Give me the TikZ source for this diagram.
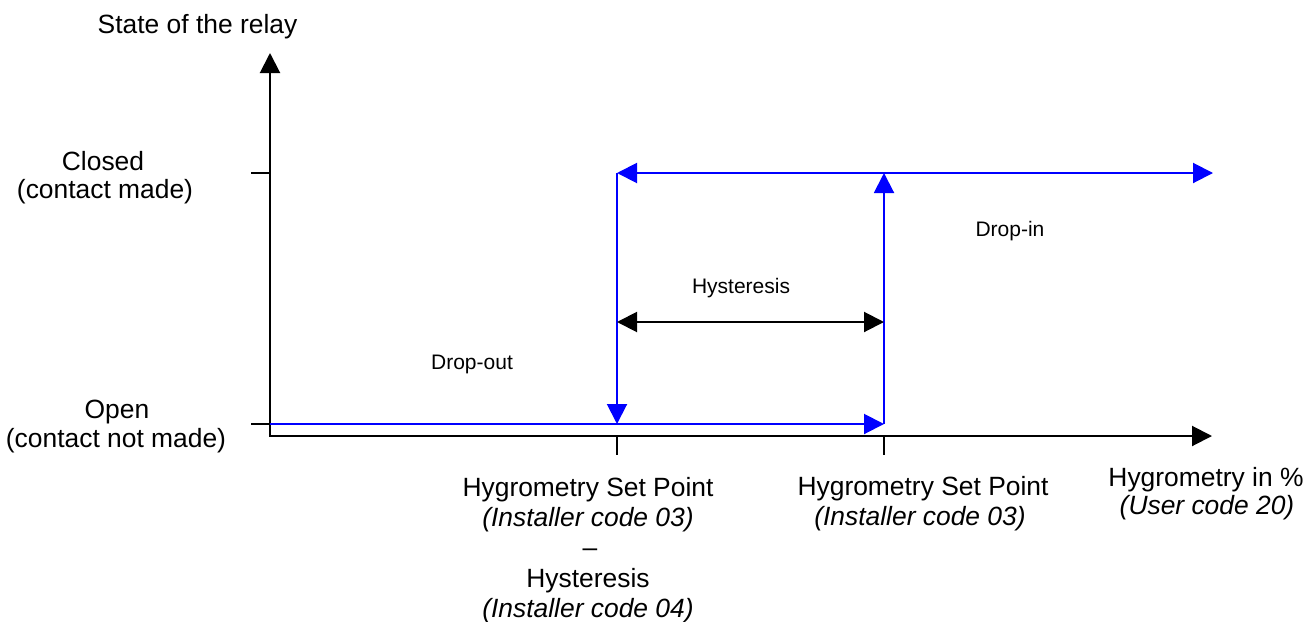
\documentclass[tikz,border=0pt]{standalone}
\usepackage{fontspec}
\setmainfont{Liberation Sans}
\usetikzlibrary{arrows.meta}
\begin{document}
\begin{tikzpicture}[x=1pt,y=-1pt,
  axisline/.style={line width=2pt, line join=miter},
  tri/.style={Triangle[length=20pt,width=20pt]},
  relay/.style={draw=blue, line width=2pt},
  big/.style={inner sep=0pt, anchor=base, font=\fontsize{26.4}{30}\selectfont},
  bigit/.style={big, font=\fontsize{26.4}{30}\selectfont\itshape},
  small/.style={inner sep=0pt, anchor=base, font=\fontsize{21}{25}\selectfont}]
\useasboundingbox (0,0) rectangle (1311,621);
% coordinates
\coordinate (O) at (270,436);
\coordinate (ytip) at (270,53);
\coordinate (xtip) at (1212,436);
\coordinate (yc) at (270,173);
\coordinate (yo) at (270,424);
\coordinate (ycl) at (251,173);
\coordinate (yol) at (251,424);
\coordinate (x1) at (617,436);
\coordinate (x2) at (884,436);
\coordinate (x1b) at (617,455);
\coordinate (x2b) at (884,455);
\coordinate (A) at (617,173);
\coordinate (B) at (884,173);
\coordinate (C) at (1213,173);
\coordinate (D) at (617,424);
\coordinate (E) at (884,424);
\coordinate (H1) at (617,322);
\coordinate (H2) at (884,322);
% axes
\draw[axisline, {Triangle[length=20pt,width=20pt]}-{Triangle[length=20pt,width=20pt]}] (ytip) -- (O) -- (xtip);
\draw[line width=2pt] (ycl) -- (yc);
\draw[line width=2pt] (yol) -- (yo);
\draw[line width=2pt] (x1) -- (x1b);
\draw[line width=2pt] (x2) -- (x2b);
% relay curve
\draw[relay, -{Triangle[length=20pt,width=20pt]}, blue] (yo) -- (E);
\draw[relay, -{Triangle[length=20pt,width=20pt]}, blue] (E) -- (B);
\draw[relay, {Triangle[length=20pt,width=20pt]}-{Triangle[length=20pt,width=20pt]}, blue] (A) -- (C);
\draw[relay, -{Triangle[length=20pt,width=20pt]}, blue] (A) -- (D);
% hysteresis arrow
\draw[line width=2pt, {Triangle[length=20pt,width=20pt]}-{Triangle[length=20pt,width=20pt]}] (H1) -- (H2);
% labels
\node[big] (ylab) at (197.5,33) {State of the relay};
\node[big] (cl1) at (103,170) {Closed};
\node[big] (cl2) at (105,198) {(contact made)};
\node[big] (op1) at (117,418) {Open};
\node[big] (op2) at (116,447) {(contact not made)};
\node[big] (xl1) at (1206,486) {Hygrometry in \%};
\node[bigit] (xl2) at (1207,514) {(User code 20)};
\node[big] (s11) at (588,496) {Hygrometry Set Point};
\node[bigit] (s12) at (588,526) {(Installer code 03)};
\node[big] (s13) at (590,556) {–};
\node[big] (s14) at (588,587) {Hysteresis};
\node[bigit] (s15) at (588,617) {(Installer code 04)};
\node[big] (s21) at (923,495) {Hygrometry Set Point};
\node[bigit] (s22) at (920,525) {(Installer code 03)};
\node[small] (hys) at (741,293) {Hysteresis};
\node[small] (dout) at (472,369) {Drop-out};
\node[small] (din) at (1010,236) {Drop-in};
\end{tikzpicture}
\end{document}
